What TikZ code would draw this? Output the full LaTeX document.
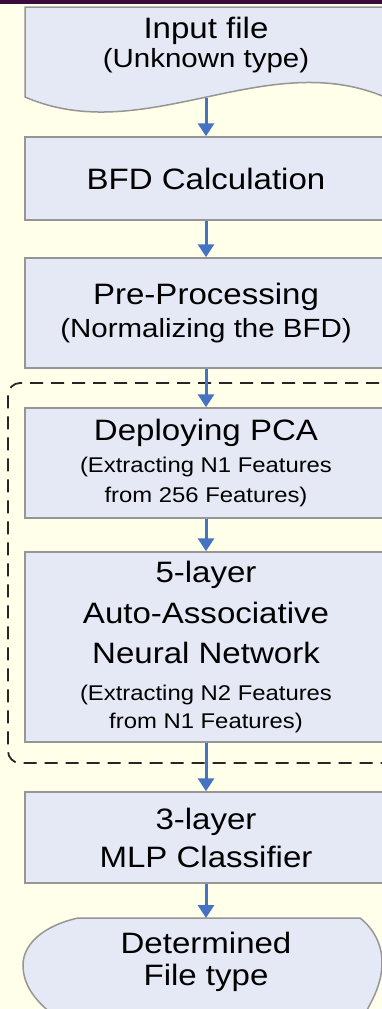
\documentclass[tikz,border=0pt]{standalone}
\usepackage{fontspec}
\setmainfont{Liberation Sans}[FakeStretch=1.12]
\usetikzlibrary{arrows.meta,positioning}

\definecolor{pagebg}{RGB}{255,255,234}
\definecolor{boxfill}{RGB}{229,233,246}
\definecolor{boxline}{RGB}{150,150,150}
\definecolor{flowblue}{RGB}{68,114,196}
\definecolor{topband}{RGB}{58,10,58}

\newcommand{\bigtxt}{\fontsize{29.5}{29}\selectfont}
\newcommand{\midtxt}{\fontsize{26.3}{29}\selectfont}
\newcommand{\smalltxt}{\fontsize{21.3}{29}\selectfont}

\tikzset{
  stagebox/.style={draw=boxline, line width=1.5pt, fill=boxfill, minimum width=362pt,
    align=center, inner sep=0pt, font=\bigtxt},
  stagetext/.style={align=center, inner sep=0pt, font=\bigtxt},
  shapeline/.style={draw=boxline, line width=1.5pt, fill=boxfill},
  flow/.style={flowblue, line width=3pt, -{Triangle[length=13pt,width=16pt]}},
  groupline/.style={black!85, line width=1.8pt, dash pattern=on 13pt off 8pt, rounded corners=12pt}
}

\begin{document}
\begin{tikzpicture}[x=1pt, y=-1pt]
    \useasboundingbox (0,0) rectangle (382,1009);
    \clip (0,0) rectangle (382,1009);
    \fill[pagebg] (0,0) rectangle (382,1009);
    \fill[topband] (0,0) rectangle (382,4);

    % Input file (document shape)
    \draw[shapeline] (25,97) -- (25,7) -- (392,7) -- (392,99) -- (387,98)
        .. controls (267,45) and (145,149) .. (25,97) -- cycle;
    \node[stagetext] (input) at (206,45) {Input file\\{\midtxt (Unknown type)}};
    \coordinate (inputout) at (206,98);

    % Processing stages
    \node[stagebox, minimum height=83pt] (bfd) at (206,178.5) {BFD Calculation};
    \node[stagebox, minimum height=110pt] (pre) at (206,313)
        {Pre-Processing\\[4pt]{\midtxt (Normalizing the BFD)}};

    % Feature extraction group
    \draw[groupline] (400,383) -- (8,383) -- (8,763) -- (400,763);
    \node[stagebox, minimum height=110pt] (pca) at (206,463)
        {Deploying PCA\\[3pt]{\smalltxt (Extracting N1 Features}\\[1pt]{\smalltxt from 256 Features)}};
    \node[stagebox, minimum height=190pt] (aann) at (206,647)
        {5-layer\\[12pt]Auto-Associative\\[11pt]Neural Network\\[8pt]{\smalltxt (Extracting N2 Features}\\[-1pt]{\smalltxt from N1 Features)}};

    % Classifier and result
    \node[stagebox, minimum height=91pt] (mlp) at (206,837.5) {3-layer\\[9pt]MLP Classifier};
    \draw[shapeline] (78,918) -- (360,918) .. controls (373,928) and (382,944) .. (382,962)
        .. controls (382,985) and (372,1000) .. (365,1014) -- (52,1014)
        .. controls (35,1000) and (23,985) .. (23,965) .. controls (23,945) and (42,926) .. (78,918) -- cycle;
    \node[stagetext] (result) at (206,962) {Determined\\[3pt]File type};
    \coordinate (resultin) at (206,918);

    % Flow arrows
    \draw[flow] (inputout) -- (bfd);
    \draw[flow] (bfd) -- (pre);
    \draw[flow] (pre) -- (pca);
    \draw[flow] (pca) -- (aann);
    \draw[flow] (aann) -- (mlp);
    \draw[flow] (mlp) -- (resultin);
\end{tikzpicture}
\end{document}
